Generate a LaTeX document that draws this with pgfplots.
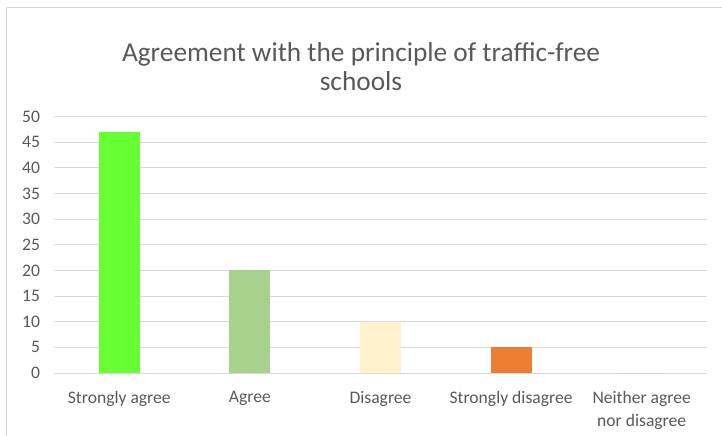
\documentclass[border=0pt]{standalone}
\usepackage{fontspec}
\setmainfont{Carlito}
\usepackage{pgfplots}
\pgfplotsset{compat=1.18}

\definecolor{txtgray}{HTML}{595959}
\definecolor{gridgray}{HTML}{D9D9D9}
\definecolor{c1}{HTML}{66FF33}
\definecolor{c2}{HTML}{A9D18E}
\definecolor{c3}{HTML}{FFF2CC}
\definecolor{c4}{HTML}{ED7D31}

\begin{document}
\begin{tikzpicture}
% page frame: 722x436 px at 0.75pt per px
\path[use as bounding box] (0,0) rectangle (541.5pt,327pt);
\draw[gridgray, line width=0.75pt] (4.5pt,0) -- (4.5pt,321pt) -- (541.5pt,321pt);

\node[anchor=base, text=txtgray, font=\fontsize{20.5}{24}\selectfont]
  at (270.75pt,280.6pt) {Agreement with the principle of traffic-free};
\node[anchor=base, text=txtgray, font=\fontsize{20.5}{24}\selectfont]
  at (270.75pt,259pt) {schools};

\begin{axis}[
    at={(40.5pt,47.25pt)}, anchor=south west,
    scale only axis,
    width=489.75pt, height=192.2pt,
    ybar, bar width=30.75pt, bar shift=0pt,
    xmin=-0.5, xmax=4.5,
    ymin=0, ymax=50,
    ytick distance=5,
    xtick={0,1,2,3,4},
    xticklabels={Strongly agree, Agree, Disagree, Strongly disagree, {Neither agree\\nor disagree}},
    major tick length=0pt,
    ymajorgrids, grid style={gridgray, line width=0.75pt},
    axis x line*=bottom, axis y line*=left,
    x axis line style={gridgray, line width=0.75pt, -},
    y axis line style={draw=none},
    tick label style={text=txtgray, font=\fontsize{13.2}{17.25}\selectfont},
    xticklabel style={align=center, anchor=north, yshift=-10.2pt},
    yticklabel style={xshift=-7pt},
    /pgf/number format/assume math mode=true,
]
\addplot[fill=c1, draw=none] coordinates {(0,47)};
\addplot[fill=c2, draw=none] coordinates {(1,20)};
\addplot[fill=c3, draw=none] coordinates {(2,10)};
\addplot[fill=c4, draw=none] coordinates {(3,5)};
\addplot[fill=c4, draw=none] coordinates {(4,0)};
\end{axis}
\end{tikzpicture}
\end{document}
